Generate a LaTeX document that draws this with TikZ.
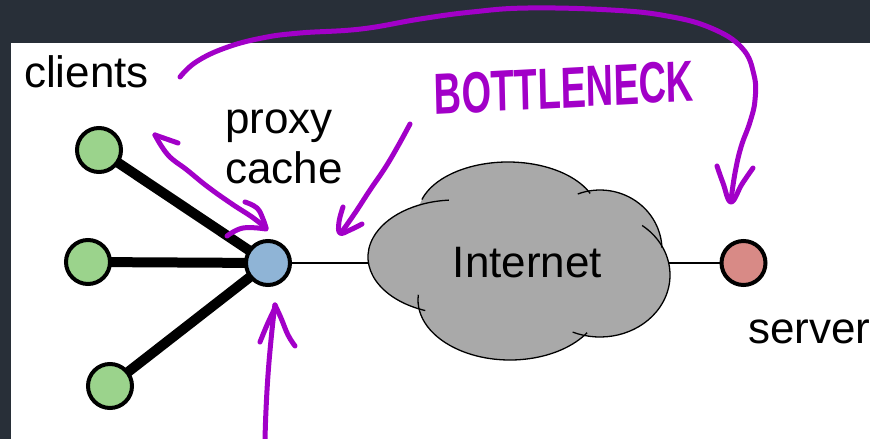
\documentclass[tikz,border=0pt]{standalone}
\usepackage{fontspec}
\setmainfont{Liberation Sans}

\definecolor{slate}{RGB}{40,47,56}
\definecolor{clientgreen}{RGB}{155,211,140}
\definecolor{proxyblue}{RGB}{143,180,214}
\definecolor{serverred}{RGB}{216,138,134}
\definecolor{cloudgray}{RGB}{169,169,169}
\definecolor{ink}{RGB}{162,0,200}

\pgfdeclarelayer{canvas}
\pgfdeclarelayer{wires}
\pgfsetlayers{canvas,wires,main}

\tikzset{
  host/.style={circle, draw=black, line width=4pt, minimum size=44pt, inner sep=0pt},
  lbl/.style={anchor=base west, inner sep=0pt, font=\fontsize{44}{50}\selectfont},
  uplink/.style={line width=10pt},
  wire/.style={line width=2.8pt},
  cloudline/.style={draw=black, line width=1.3pt},
  pen/.style={draw=ink, line width=5pt, line cap=round, line join=round},
}

\begin{document}
\begin{tikzpicture}[x=1pt, y=-1pt]
  \useasboundingbox (0,0) rectangle (870,439);

  % slide frame
  \begin{pgfonlayer}{canvas}
    \fill[slate] (0,0) rectangle (870,439);
    \fill[white] (11,43) rectangle (870,439);
  \end{pgfonlayer}

  % hosts
  \node[host, fill=clientgreen] (c1) at (99,150) {};
  \node[host, fill=clientgreen] (c2) at (88,262) {};
  \node[host, fill=clientgreen] (c3) at (110,386) {};
  \node[host, fill=proxyblue] (proxy) at (268,263) {};
  \node[host, fill=serverred] (server) at (743.5,263) {};

  % links
  \begin{pgfonlayer}{wires}
    \draw[uplink] (c1.center) -- (proxy.center);
    \draw[uplink] (c2.center) -- (proxy.center);
    \draw[uplink] (c3.center) -- (proxy.center);
    \draw[wire] (proxy) -- (server);
  \end{pgfonlayer}

  % the Internet cloud: five overlapping lobes, then their outer arcs
  \fill[cloudgray] (455,257) ellipse [x radius=87pt, y radius=57pt];
  \fill[cloudgray] (508,215) ellipse [x radius=90pt, y radius=53pt];
  \fill[cloudgray] (600,250) ellipse [x radius=62pt, y radius=60pt];
  \fill[cloudgray] (600,275) ellipse [x radius=70pt, y radius=62pt];
  \fill[cloudgray] (510,300) ellipse [x radius=92pt, y radius=60pt];
  \draw[cloudline] (425.24,310.56) arc[start angle=-110, end angle=-266, x radius=87pt, y radius=57pt];
  \draw[cloudline] (421.93,199.50) arc[start angle=-197, end angle=-336, x radius=90pt, y radius=53pt];
  \draw[cloudline] (577.78,193.99) arc[start angle=-249, end angle=-358, x radius=62pt, y radius=60pt];
  \draw[cloudline] (642.13,225.49) arc[start angle=-307, end angle=-473, x radius=70pt, y radius=62pt];
  \draw[cloudline] (587.16,332.68) arc[start angle=-33, end angle=-185, x radius=92pt, y radius=60pt];
  \node[anchor=base, inner sep=0pt, font=\fontsize{44}{50}\selectfont] (inet) at (527.5,277) {Internet};

  % labels
  \node[lbl] (clients) at (24,87) {clients};
  \node[lbl] (proxylbl) at (225,133) {proxy};
  \node[lbl] (cachelbl) at (225,183) {cache};
  \node[lbl] (serverlbl) at (748,343) {server};

  % handwritten notes
  \node[text=ink, inner sep=0pt, font=\fontsize{58}{58}\selectfont\bfseries, xscale=0.655, rotate=2] (note) at (564,88) {BOTTLENECK};

  % clients -> server, over the top
  \draw[pen] plot[smooth, tension=0.7] coordinates {(180,77) (196,62) (225,48) (262,38) (300,33) (361,29) (420,19) (472,12) (528,8) (611,10) (667,16) (711,28) (742,48) (754,75) (755,100) (750,122) (741,147) (735,173) (731,200)};
  \draw[pen] plot[smooth, tension=0.7] coordinates {(717,166) (723,183) (731,202) (742,184) (753,168)};

  % client <-> proxy
  \draw[pen] plot[smooth, tension=0.7] coordinates {(155,135) (168,155) (187,170) (208,187) (232,204) (252,217) (266,228)};
  \draw[pen] (178,143) -- (155,135);
  \draw[pen] plot[smooth, tension=0.7] coordinates {(245,202) (257,208) (263,219) (266,228)};
  \draw[pen] plot[smooth, tension=0.7] coordinates {(227,236) (243,228) (266,229)};

  % arrow from the note to the access link
  \draw[pen] plot[smooth, tension=0.7] coordinates {(410,124) (398,146) (385,168) (370,190) (355,213) (341,233)};
  \draw[pen] plot[smooth, tension=0.7] coordinates {(343,207) (339,222) (340,233) (350,230) (362,224)};

  % arrow up to the proxy
  \draw[pen] plot[smooth, tension=0.7] coordinates {(265,439) (266,410) (268,375) (271,340) (274,312) (275,305)};
  \draw[pen] plot[smooth, tension=0.7] coordinates {(260,342) (267,325) (274,310)};
  \draw[pen] plot[smooth, tension=0.7] coordinates {(275,305) (281,318) (288,335) (295,346)};
\end{tikzpicture}
\end{document}
